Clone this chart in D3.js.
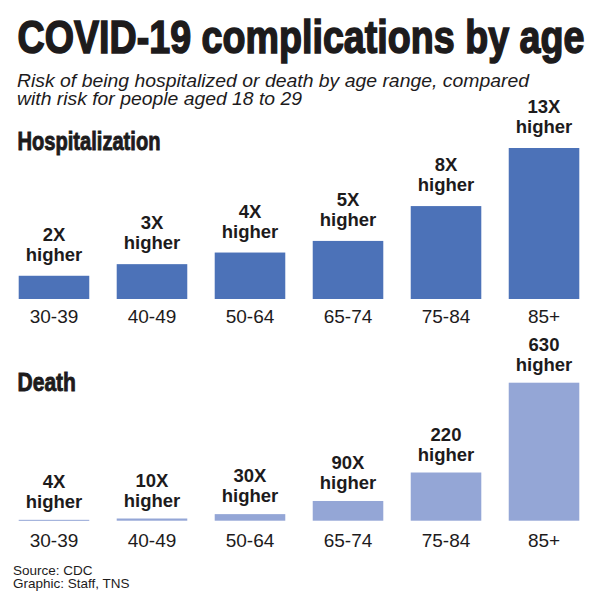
<!DOCTYPE html>
<html>
<head>
<meta charset="utf-8">
<script src="https://cdn.jsdelivr.net/npm/d3@7"></script>
<style>
  body { margin: 0; background: #fff; }
  svg { display: block; }
  .bold-cond { font-family: "Liberation Sans Narrow", "Arial Narrow", "Liberation Sans", sans-serif; font-weight: bold; }
  .sans { font-family: "Liberation Sans", Arial, Helvetica, sans-serif; }
</style>
</head>
<body>
<div id="chart"></div>
<script>
const ages = ['30-39', '40-49', '50-64', '65-74', '75-84', '85+'];
const hospRisk = [2, 3, 4, 5, 8, 13];
const hospLabels = ['2X', '3X', '4X', '5X', '8X', '13X'];
const deathRisk = [4, 10, 30, 90, 220, 630];
const deathLabels = ['4X', '10X', '30X', '90X', '220', '630'];

const W = 600, H = 596;
const ink = '#1d1b1c';

const svg = d3.select('#chart').append('svg')
  .attr('width', W)
  .attr('height', H);

// squeeze/stretch a condensed headline so it spans a given width
function fitText(sel, x0, y0, width) {
  const w = sel.node().getBBox().width;
  sel.attr('transform', `translate(${x0},${y0}) scale(${width / w},1)`);
}

const title = svg.append('text')
  .attr('class', 'bold-cond')
  .attr('font-size', 47)
  .attr('fill', ink)
  .attr('stroke', ink)
  .attr('stroke-width', 1.6)
  .text('COVID-19 complications by age');
fitText(title, 17.5, 52.5, 567);

const sub = svg.append('text')
  .attr('class', 'sans')
  .attr('font-size', 18.5)
  .attr('font-style', 'italic')
  .attr('fill', ink);
sub.append('tspan').attr('x', 17).attr('y', 86.5)
  .attr('textLength', 512).attr('lengthAdjust', 'spacingAndGlyphs')
  .text('Risk of being hospitalized or death by age range, compared');
sub.append('tspan').attr('x', 17).attr('y', 104.5)
  .attr('textLength', 285).attr('lengthAdjust', 'spacingAndGlyphs')
  .text('with risk for people aged 18 to 29');

const x = d3.scaleBand()
  .domain(ages)
  .range([18.7, 579.3])
  .paddingInner(0.28)
  .paddingOuter(0);

function drawPanel(opts) {
  const g = svg.append('g');
  const y = d3.scaleLinear().domain(opts.domain).range(opts.range);

  const head = g.append('text')
    .attr('class', 'bold-cond')
    .attr('font-size', 26)
    .attr('fill', ink)
    .attr('stroke', ink)
    .attr('stroke-width', 0.9)
    .text(opts.title);
  fitText(head, 17.5, opts.titleY, opts.titleW);

  const data = ages.map((a, i) => ({ age: a, v: opts.values[i], lbl: opts.labels[i] }));

  g.selectAll('rect.bar')
    .data(data)
    .join('rect')
    .attr('class', 'bar')
    .attr('x', d => x(d.age))
    .attr('width', x.bandwidth())
    .attr('y', d => y(d.v))
    .attr('height', d => Math.max(1, y(0) - y(d.v)))
    .attr('fill', opts.color);

  const lab = g.selectAll('text.val')
    .data(data)
    .join('text')
    .attr('class', 'val sans')
    .attr('text-anchor', 'middle')
    .attr('font-size', 18.5)
    .attr('font-weight', 'bold')
    .attr('fill', ink);
  lab.append('tspan')
    .attr('x', d => x(d.age) + x.bandwidth() / 2)
    .attr('y', d => y(d.v) - opts.gap - 20)
    .text(d => d.lbl);
  lab.append('tspan')
    .attr('x', d => x(d.age) + x.bandwidth() / 2)
    .attr('y', d => y(d.v) - opts.gap)
    .text('higher');

  // category axis, no line or ticks
  const axis = g.append('g')
    .attr('transform', `translate(0,${opts.range[0]})`)
    .call(d3.axisBottom(x).tickSize(0).tickPadding(0));
  axis.select('.domain').remove();
  axis.selectAll('text')
    .attr('font-size', 19)
    .attr('font-family', '"Liberation Sans", Arial, sans-serif')
    .attr('fill', ink)
    .attr('dy', null)
    .attr('y', opts.labelOff);
}

drawPanel({
  title: 'Hospitalization', titleY: 149.5, titleW: 143,
  values: hospRisk, labels: hospLabels,
  domain: [0, 13], range: [299, 148],
  color: '#4c72b8', gap: 15, labelOff: 24
});

drawPanel({
  title: 'Death', titleY: 391, titleW: 58.5,
  values: deathRisk, labels: deathLabels,
  domain: [0, 630], range: [520.7, 382.7],
  color: '#94a6d6', gap: 12, labelOff: 26.5
});

const src = svg.append('text')
  .attr('class', 'sans')
  .attr('font-size', 13.5)
  .attr('fill', ink);
src.append('tspan').attr('x', 13).attr('y', 575).text('Source: CDC');
src.append('tspan').attr('x', 13).attr('y', 588).text('Graphic: Staff, TNS');
</script>
</body>
</html>
